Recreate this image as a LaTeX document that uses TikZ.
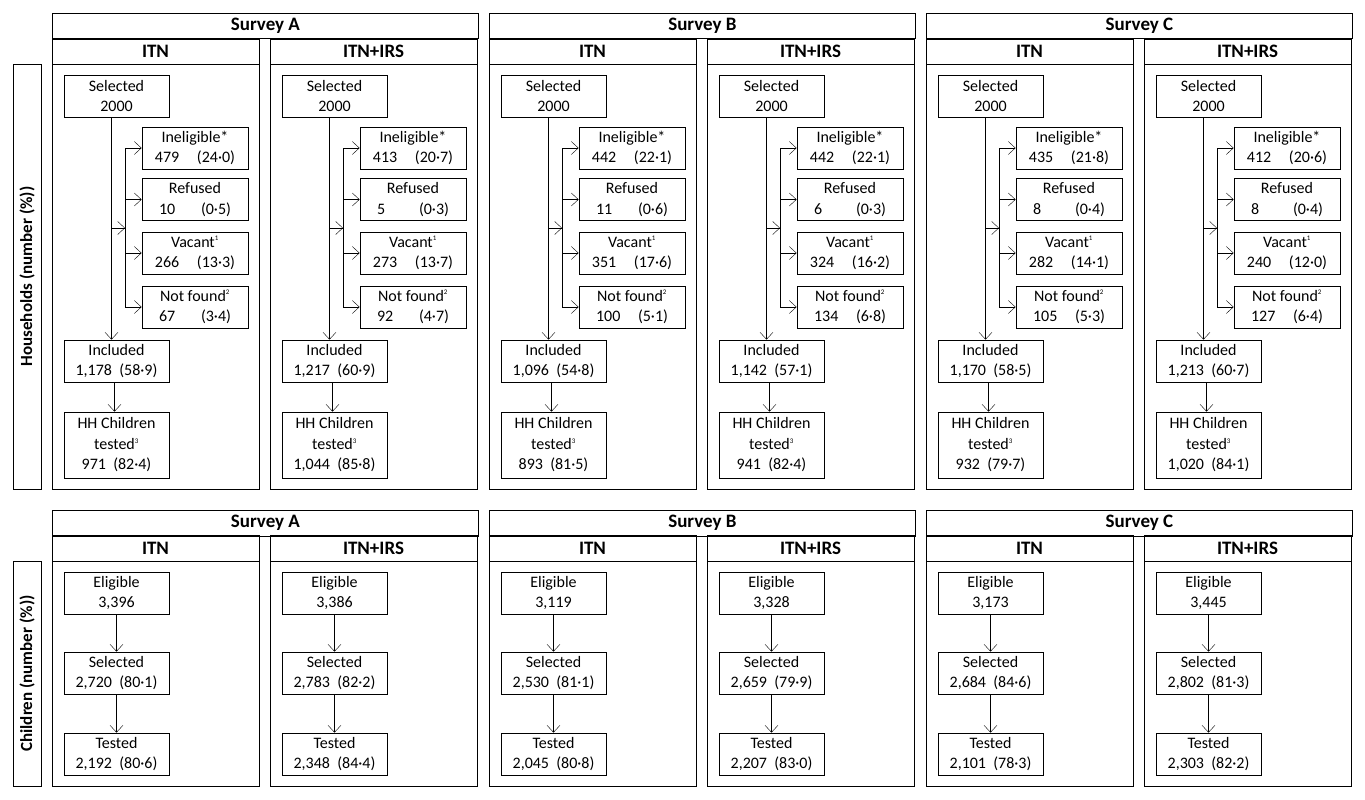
\documentclass[tikz,border=0pt]{standalone}
\usepackage{fontspec}
\setmainfont{Carlito}
\usetikzlibrary{arrows.meta, positioning, calc}

\begin{document}
\begin{tikzpicture}[
  x=1pt, y=-1pt,
  every node/.style = {font=\fontsize{16}{20.5}\selectfont},
  box/.style = {draw, thick, minimum width=105pt, minimum height=42pt, inner sep=1pt, align=center},
  head/.style = {draw, thick, minimum height=25.5pt, inner sep=0pt, font=\fontsize{19}{21}\selectfont\bfseries},
  frame/.style = {draw, thick},
  arrow/.style = {-{Straight Barb[length=7pt, width=13pt]}}
]
  \useasboundingbox (0,0) rectangle (1365,800);

  % side labels
  \node[frame, minimum width=425pt, minimum height=28pt, rotate=90, font=\fontsize{17}{19}\selectfont\bfseries]
    (hhlab) at (27,276.5) {Households (number (\%))};
  \node[frame, minimum width=225pt, minimum height=28pt, rotate=90, font=\fontsize{17}{19}\selectfont\bfseries]
    (chlab) at (27,673.5) {Children (number (\%))};

  % survey frames and headers
  \foreach \px/\sv in {52/A, 489/B, 926/C} {
    \node[head, minimum width=426pt, anchor=north west] (top\sv) at (\px,13) {Survey \sv};
    \node[head, minimum width=426pt, anchor=north west] (bot\sv) at (\px,510) {Survey \sv};
    \foreach \cx/\cn in {0/ITN, 218/ITN+IRS} {
      \draw[frame] (\px+\cx,39) rectangle (\px+\cx+207,489);
      \draw[frame] (\px+\cx,64) -- (\px+\cx+207,64);
      \node[font=\fontsize{19}{21}\selectfont\bfseries] at (\px+\cx+103.5,51.5) {\cn};
      \draw[frame] (\px+\cx,535) rectangle (\px+\cx+207,786);
      \draw[frame] (\px+\cx,561) -- (\px+\cx+207,561);
      \node[font=\fontsize{19}{21}\selectfont\bfseries] at (\px+\cx+103.5,548) {\cn};
    }
  }

  % flow charts per column
  \foreach \lx/\id/\ia/\ib/\ra/\rb/\va/\vb/\na/\nb/\ca/\cb/\ha/\hb/\ea/\sa/\sb/\ta/\tb in {
    52/a/479/24·0/10/0·5/266/13·3/67/3·4/{1,178}/58·9/971/82·4/{3,396}/{2,720}/80·1/{2,192}/80·6,
    270/b/413/20·7/5/0·3/273/13·7/92/4·7/{1,217}/60·9/{1,044}/85·8/{3,386}/{2,783}/82·2/{2,348}/84·4,
    489/c/442/22·1/11/0·6/351/17·6/100/5·1/{1,096}/54·8/893/81·5/{3,119}/{2,530}/81·1/{2,045}/80·8,
    707/d/442/22·1/6/0·3/324/16·2/134/6·8/{1,142}/57·1/941/82·4/{3,328}/{2,659}/79·9/{2,207}/83·0,
    926/e/435/21·8/8/0·4/282/14·1/105/5·3/{1,170}/58·5/932/79·7/{3,173}/{2,684}/84·6/{2,101}/78·3,
    1144/f/412/20·6/8/0·4/240/12·0/127/6·4/{1,213}/60·7/{1,020}/84·1/{3,445}/{2,802}/81·3/{2,303}/82·2} {
    % households
    \node[box] (sel\id) at (\lx+64.5,96) {Selected\\2000};
    \node[box, minimum width=106pt] (inel\id) at (\lx+143,148) {Ineligible*\\\makebox[42pt][l]{\ia}(\ib)};
    \node[box, minimum width=106pt] (ref\id) at (\lx+143,199.5) {Refused\\\makebox[42pt][l]{\ra}(\rb)};
    \node[box, minimum width=106pt] (vac\id) at (\lx+143,253) {Vacant\textsuperscript{\scriptsize 1}\\\makebox[42pt][l]{\va}(\vb)};
    \node[box, minimum width=106pt] (nf\id) at (\lx+143,307) {Not found\textsuperscript{\scriptsize 2}\\\makebox[42pt][l]{\na}(\nb)};
    \node[box] (inc\id) at (\lx+64.5,361) {Included\\\ca\ \ (\cb)};
    \node[box, minimum height=66pt] (hh\id) at (\lx+64.5,445) {HH Children\\tested\textsuperscript{\scriptsize 3}\\\ha\ \ (\hb)};
    \coordinate (br\id) at (\lx+73,228);
    \draw[arrow] ([xshift=-5pt]sel\id.south) -- ([xshift=-5pt]inc\id.north);
    \draw[arrow] ([xshift=-5pt]sel\id.south |- br\id) -- (br\id);
    \draw (br\id |- inel\id.west) -- (br\id |- nf\id.west);
    \foreach \k in {inel, ref, vac, nf}
      \draw[arrow] (br\id |- \k\id.west) -- (\k\id.west);
    \draw[arrow] ([xshift=-2pt]inc\id.south) -- ([xshift=-2pt]hh\id.north);
    % children
    \node[box] (elig\id) at (\lx+64.5,593) {Eligible\\\ea};
    \node[box] (csel\id) at (\lx+64.5,673) {Selected\\\sa\ \ (\sb)};
    \node[box] (test\id) at (\lx+64.5,754) {Tested\\\ta\ \ (\tb)};
    \draw[arrow] (elig\id) -- (csel\id);
    \draw[arrow] (csel\id) -- (test\id);
  }
\end{tikzpicture}
\end{document}
